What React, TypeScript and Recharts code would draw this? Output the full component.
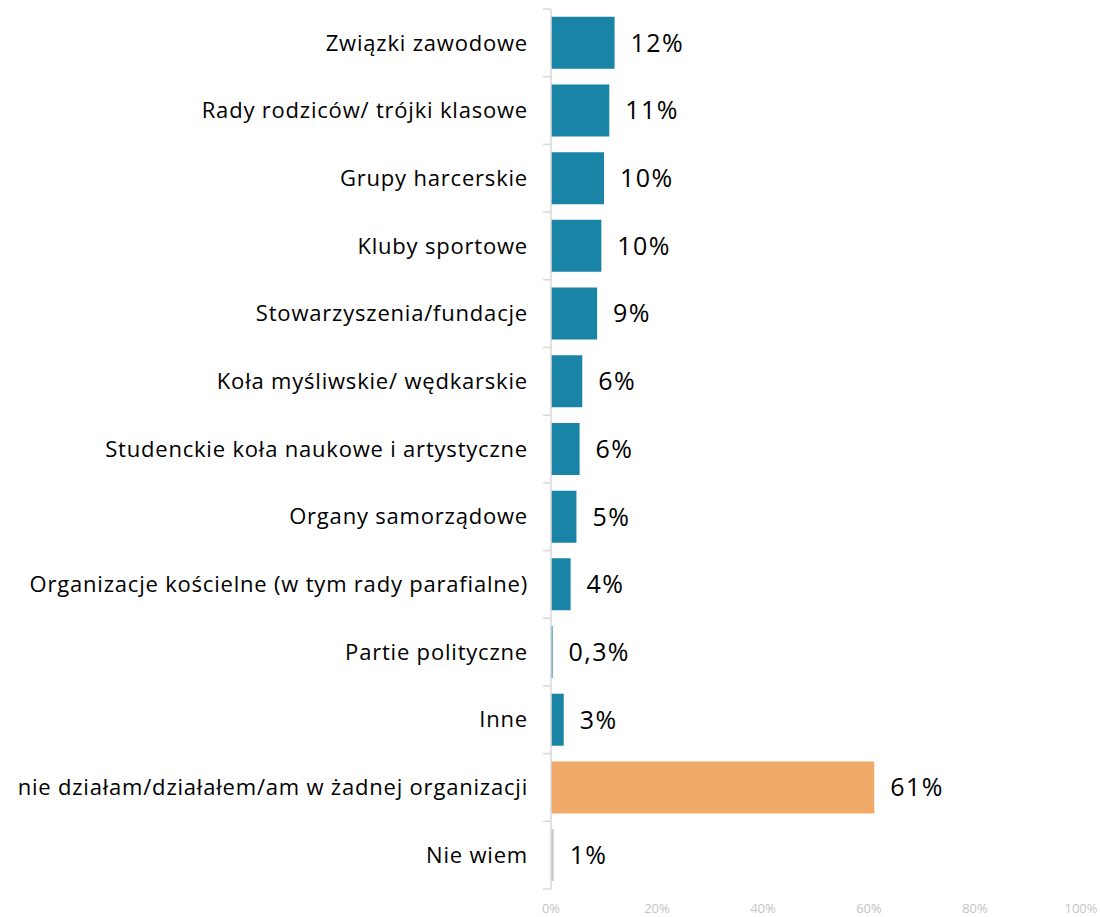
import React from 'react';
import { BarChart, Bar, XAxis, YAxis, Cell, LabelList } from 'recharts';

const categories = [
  'Związki zawodowe',
  'Rady rodziców/ trójki klasowe',
  'Grupy harcerskie',
  'Kluby sportowe',
  'Stowarzyszenia/fundacje',
  'Koła myśliwskie/ wędkarskie',
  'Studenckie koła naukowe i artystyczne',
  'Organy samorządowe',
  'Organizacje kościelne (w tym rady parafialne)',
  'Partie polityczne',
  'Inne',
  'nie działam/działałem/am w żadnej organizacji',
  'Nie wiem',
];
const values = [12, 11, 10, 9.5, 8.7, 5.9, 5.4, 4.8, 3.7, 0.3, 2.4, 61, 0.5];
const valueLabels = ['12%', '11%', '10%', '10%', '9%', '6%', '6%', '5%', '4%', '0,3%', '3%', '61%', '1%'];
const groups = ['main', 'main', 'main', 'main', 'main', 'main', 'main', 'main', 'main', 'main', 'main', 'none', 'dontknow'];
const xTicks = [0, 20, 40, 60, 80, 100];

const groupColors: Record<string, string> = {
  main: '#1a84a6',
  none: '#f1aa6a',
  dontknow: '#c8c8c8',
};

const data = categories.map((c, i) => ({ name: c, value: values[i], label: valueLabels[i], group: groups[i] }));

const W = 1100;
const H = 917;
const TOP = 9;
const XAXIS_H = 28;
const PLOT_H = H - TOP - XAXIS_H;
const BAND = PLOT_H / categories.length;
const FONT = '"Open Sans", Lato, sans-serif';

const YTick = (props: any) => {
  const { x, y, payload, index } = props;
  const axisX = x + 24;
  const isLast = index === categories.length - 1;
  return (
    <g>
      <line x1={axisX - 8} x2={axisX} y1={y - BAND / 2} y2={y - BAND / 2} stroke="#d9d9d9" strokeWidth={1.5} />
      {isLast && (
        <line x1={axisX - 8} x2={axisX} y1={y + BAND / 2} y2={y + BAND / 2} stroke="#d9d9d9" strokeWidth={1.5} />
      )}
      <text x={x + 1} y={y} dy="0.35em" textAnchor="end" fill="#000" fontSize={22} letterSpacing={0.8} fontFamily={FONT}>
        {payload.value}
      </text>
    </g>
  );
};

export default function App() {
  return (
    <div style={{ position: 'absolute', left: 0, top: 0, width: W, height: H, background: '#fff' }}>
      <BarChart
        width={W}
        height={H}
        data={data}
        layout="vertical"
        margin={{ top: TOP, right: 19, bottom: 0, left: 0 }}
        barCategoryGap="11.5%"
      >
        <XAxis
          type="number"
          domain={[0, 100]}
          ticks={xTicks}
          tickFormatter={(v: number) => `${v}%`}
          axisLine={false}
          tickLine={false}
          tickSize={0}
          tickMargin={15}
          height={XAXIS_H}
          tick={{ fill: '#c4c4c4', fontSize: 13, fontFamily: FONT }}
          interval={0}
        />
        <YAxis
          type="category"
          dataKey="name"
          width={551}
          axisLine={{ stroke: '#d9d9d9', strokeWidth: 1.5 }}
          tickLine={false}
          tickSize={8}
          tickMargin={16}
          tick={<YTick />}
          interval={0}
        />
        <Bar dataKey="value" isAnimationActive={false}>
          {data.map((d, i) => (
            <Cell key={i} fill={groupColors[d.group]} />
          ))}
          <LabelList
            dataKey="label"
            position="right"
            offset={16}
            fill="#000"
            fontSize={25}
            letterSpacing={1.4}
            fontFamily={FONT}
          />
        </Bar>
      </BarChart>
    </div>
  );
}
